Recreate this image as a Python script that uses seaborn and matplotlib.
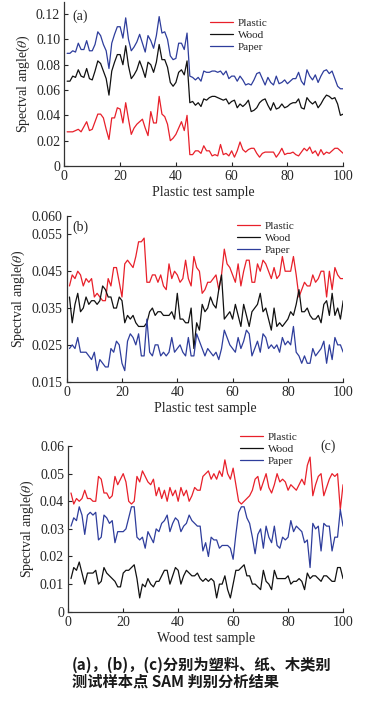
import numpy as np
import pandas as pd
import matplotlib
matplotlib.use("Agg")
import matplotlib.pyplot as plt
import seaborn as sns

sample = list(range(1, 101))
series_names = ["Plastic", "Wood", "Paper"]
colors = {"Plastic": "#e8202a", "Wood": "#111111", "Paper": "#2e3d9c"}

# panel (a): plastic test samples
a_plastic = [0.027, 0.027, 0.027, 0.028, 0.029, 0.027, 0.031, 0.035, 0.028, 0.029,
             0.035, 0.041, 0.041, 0.038, 0.029, 0.021, 0.038, 0.038, 0.046, 0.045,
             0.034, 0.050, 0.037, 0.025, 0.030, 0.033, 0.035, 0.037, 0.030, 0.024,
             0.043, 0.034, 0.034, 0.055, 0.041, 0.039, 0.033, 0.020, 0.022, 0.025,
             0.030, 0.035, 0.028, 0.040, 0.009, 0.009, 0.012, 0.012, 0.010, 0.016,
             0.012, 0.012, 0.008, 0.009, 0.008, 0.017, 0.009, 0.010, 0.008, 0.012,
             0.007, 0.012, 0.019, 0.013, 0.011, 0.013, 0.014, 0.014, 0.010, 0.007,
             0.010, 0.011, 0.011, 0.011, 0.011, 0.007, 0.010, 0.014, 0.009, 0.010,
             0.010, 0.011, 0.009, 0.008, 0.011, 0.014, 0.012, 0.015, 0.010, 0.012,
             0.008, 0.013, 0.009, 0.011, 0.010, 0.012, 0.014, 0.014, 0.012, 0.010]
a_wood = [0.067, 0.067, 0.071, 0.070, 0.076, 0.071, 0.070, 0.077, 0.069, 0.068,
          0.075, 0.083, 0.081, 0.075, 0.069, 0.056, 0.075, 0.082, 0.088, 0.088,
          0.080, 0.095, 0.079, 0.069, 0.072, 0.076, 0.083, 0.077, 0.070, 0.082,
          0.080, 0.074, 0.082, 0.096, 0.084, 0.084, 0.078, 0.066, 0.063, 0.066,
          0.074, 0.076, 0.072, 0.083, 0.050, 0.051, 0.048, 0.050, 0.047, 0.053,
          0.052, 0.054, 0.055, 0.055, 0.054, 0.053, 0.052, 0.053, 0.049, 0.051,
          0.052, 0.046, 0.049, 0.047, 0.049, 0.052, 0.043, 0.044, 0.046, 0.050,
          0.052, 0.053, 0.048, 0.044, 0.050, 0.045, 0.046, 0.049, 0.046, 0.047,
          0.049, 0.050, 0.050, 0.053, 0.046, 0.045, 0.054, 0.051, 0.049, 0.051,
          0.046, 0.049, 0.053, 0.056, 0.055, 0.053, 0.054, 0.049, 0.040, 0.041]
a_paper = [0.089, 0.089, 0.091, 0.090, 0.097, 0.092, 0.092, 0.099, 0.091, 0.091,
           0.096, 0.106, 0.103, 0.096, 0.091, 0.077, 0.097, 0.104, 0.110, 0.110,
           0.101, 0.117, 0.100, 0.091, 0.094, 0.098, 0.104, 0.097, 0.090, 0.103,
           0.099, 0.093, 0.103, 0.118, 0.105, 0.106, 0.100, 0.087, 0.084, 0.085,
           0.097, 0.097, 0.092, 0.105, 0.071, 0.070, 0.068, 0.070, 0.067, 0.075,
           0.074, 0.074, 0.075, 0.075, 0.074, 0.075, 0.072, 0.075, 0.069, 0.071,
           0.071, 0.067, 0.071, 0.068, 0.064, 0.065, 0.064, 0.068, 0.073, 0.074,
           0.069, 0.064, 0.070, 0.066, 0.064, 0.071, 0.065, 0.066, 0.068, 0.065,
           0.067, 0.069, 0.069, 0.074, 0.067, 0.064, 0.076, 0.071, 0.068, 0.072,
           0.066, 0.071, 0.075, 0.076, 0.073, 0.075, 0.069, 0.063, 0.061, 0.061]

# panel (b): plastic test samples
b_plastic = [0.041, 0.044, 0.043, 0.045, 0.044, 0.041, 0.043, 0.042, 0.043, 0.038,
             0.039, 0.038, 0.037, 0.037, 0.043, 0.041, 0.046, 0.046, 0.042, 0.038,
             0.047, 0.048, 0.047, 0.046, 0.049, 0.053, 0.053, 0.054, 0.042, 0.042,
             0.044, 0.044, 0.042, 0.044, 0.041, 0.040, 0.047, 0.043, 0.045, 0.044,
             0.042, 0.043, 0.048, 0.043, 0.041, 0.049, 0.046, 0.045, 0.039, 0.040,
             0.042, 0.042, 0.043, 0.044, 0.040, 0.044, 0.051, 0.047, 0.046, 0.044,
             0.042, 0.047, 0.041, 0.045, 0.048, 0.048, 0.042, 0.042, 0.047, 0.045,
             0.048, 0.047, 0.045, 0.043, 0.046, 0.043, 0.044, 0.049, 0.045, 0.045,
             0.045, 0.049, 0.044, 0.038, 0.040, 0.042, 0.041, 0.041, 0.044, 0.042,
             0.043, 0.045, 0.045, 0.038, 0.045, 0.040, 0.046, 0.044, 0.043, 0.043]
b_wood = [0.038, 0.031, 0.036, 0.039, 0.034, 0.035, 0.038, 0.036, 0.037, 0.037,
          0.036, 0.037, 0.041, 0.040, 0.038, 0.038, 0.035, 0.035, 0.038, 0.037,
          0.031, 0.033, 0.032, 0.033, 0.031, 0.030, 0.030, 0.030, 0.031, 0.034,
          0.035, 0.033, 0.034, 0.034, 0.033, 0.033, 0.033, 0.034, 0.032, 0.039,
          0.032, 0.032, 0.031, 0.031, 0.035, 0.024, 0.031, 0.029, 0.036, 0.034,
          0.035, 0.038, 0.036, 0.035, 0.040, 0.044, 0.032, 0.033, 0.034, 0.032,
          0.036, 0.033, 0.030, 0.036, 0.033, 0.030, 0.034, 0.035, 0.036, 0.039,
          0.034, 0.035, 0.032, 0.029, 0.035, 0.030, 0.031, 0.030, 0.031, 0.032,
          0.034, 0.033, 0.036, 0.040, 0.034, 0.034, 0.035, 0.033, 0.032, 0.032,
          0.033, 0.031, 0.036, 0.037, 0.033, 0.039, 0.033, 0.035, 0.032, 0.037]
b_paper = [0.024, 0.025, 0.024, 0.027, 0.023, 0.023, 0.023, 0.022, 0.021, 0.023,
           0.018, 0.021, 0.020, 0.019, 0.019, 0.024, 0.023, 0.026, 0.025, 0.020,
           0.018, 0.026, 0.028, 0.027, 0.025, 0.028, 0.022, 0.022, 0.032, 0.023,
           0.022, 0.025, 0.025, 0.022, 0.023, 0.022, 0.023, 0.027, 0.023, 0.024,
           0.025, 0.023, 0.022, 0.027, 0.022, 0.022, 0.028, 0.026, 0.024, 0.022,
           0.024, 0.023, 0.022, 0.023, 0.021, 0.024, 0.029, 0.027, 0.025, 0.024,
           0.023, 0.027, 0.024, 0.026, 0.029, 0.028, 0.022, 0.024, 0.026, 0.023,
           0.028, 0.027, 0.024, 0.025, 0.024, 0.025, 0.023, 0.027, 0.025, 0.026,
           0.025, 0.030, 0.023, 0.022, 0.020, 0.022, 0.020, 0.020, 0.024, 0.022,
           0.023, 0.024, 0.026, 0.020, 0.025, 0.021, 0.027, 0.025, 0.025, 0.023]

# panel (c): wood test samples
c_plastic = [0.043, 0.039, 0.041, 0.040, 0.041, 0.044, 0.041, 0.041, 0.040, 0.040,
             0.049, 0.048, 0.043, 0.043, 0.041, 0.042, 0.049, 0.046, 0.048, 0.050,
             0.047, 0.040, 0.039, 0.040, 0.049, 0.047, 0.051, 0.049, 0.047, 0.046,
             0.048, 0.042, 0.045, 0.041, 0.044, 0.040, 0.045, 0.042, 0.044, 0.040,
             0.045, 0.042, 0.044, 0.040, 0.042, 0.045, 0.044, 0.044, 0.049, 0.050,
             0.051, 0.048, 0.050, 0.048, 0.051, 0.049, 0.055, 0.050, 0.048, 0.052,
             0.046, 0.040, 0.039, 0.040, 0.041, 0.042, 0.044, 0.048, 0.049, 0.044,
             0.047, 0.050, 0.045, 0.043, 0.046, 0.050, 0.047, 0.048, 0.047, 0.044,
             0.046, 0.045, 0.044, 0.046, 0.048, 0.046, 0.053, 0.056, 0.042, 0.046,
             0.049, 0.050, 0.042, 0.045, 0.048, 0.050, 0.049, 0.050, 0.037, 0.046]
c_wood = [0.012, 0.016, 0.015, 0.018, 0.014, 0.010, 0.014, 0.014, 0.014, 0.015,
          0.010, 0.011, 0.016, 0.014, 0.013, 0.012, 0.011, 0.009, 0.009, 0.014,
          0.015, 0.015, 0.016, 0.017, 0.012, 0.005, 0.010, 0.009, 0.012, 0.010,
          0.009, 0.011, 0.011, 0.013, 0.015, 0.015, 0.010, 0.013, 0.016, 0.015,
          0.010, 0.013, 0.015, 0.014, 0.013, 0.013, 0.014, 0.012, 0.011, 0.012,
          0.011, 0.012, 0.011, 0.005, 0.010, 0.010, 0.013, 0.008, 0.005, 0.010,
          0.015, 0.015, 0.016, 0.017, 0.013, 0.013, 0.010, 0.010, 0.009, 0.008,
          0.015, 0.011, 0.010, 0.008, 0.015, 0.012, 0.012, 0.012, 0.012, 0.013,
          0.010, 0.011, 0.011, 0.012, 0.011, 0.008, 0.014, 0.012, 0.013, 0.013,
          0.012, 0.011, 0.013, 0.013, 0.012, 0.011, 0.011, 0.016, 0.016, 0.012]
c_paper = [0.031, 0.034, 0.033, 0.038, 0.035, 0.028, 0.035, 0.036, 0.035, 0.036,
           0.026, 0.027, 0.035, 0.034, 0.032, 0.033, 0.025, 0.029, 0.029, 0.029,
           0.030, 0.034, 0.038, 0.038, 0.027, 0.026, 0.027, 0.023, 0.029, 0.027,
           0.025, 0.030, 0.029, 0.032, 0.033, 0.035, 0.029, 0.032, 0.034, 0.033,
           0.029, 0.031, 0.032, 0.035, 0.033, 0.032, 0.031, 0.031, 0.022, 0.025,
           0.020, 0.027, 0.026, 0.026, 0.023, 0.024, 0.024, 0.024, 0.023, 0.019,
           0.028, 0.036, 0.038, 0.038, 0.034, 0.032, 0.027, 0.021, 0.028, 0.030,
           0.023, 0.031, 0.027, 0.025, 0.031, 0.024, 0.023, 0.027, 0.026, 0.027,
           0.033, 0.029, 0.031, 0.030, 0.029, 0.025, 0.026, 0.016, 0.032, 0.030,
           0.031, 0.022, 0.032, 0.031, 0.031, 0.022, 0.027, 0.027, 0.037, 0.031]

a_yticks = [0, 0.02, 0.04, 0.06, 0.08, 0.10, 0.12]
a_yticklabels = ["0", "0.02", "0.04", "0.06", "0.08", "0.10", "0.12"]
b_yticks = [0.015, 0.025, 0.035, 0.045, 0.055, 0.060]
b_yticklabels = ["0.015", "0.025", "0.035", "0.045", "0.055", "0.060"]
c_yticks = [0, 0.01, 0.02, 0.03, 0.04, 0.05, 0.06]
c_yticklabels = ["0", "0.01", "0.02", "0.03", "0.04", "0.05", "0.06"]
xticks = [0, 20, 40, 60, 80, 100]

sns.set_theme(style="ticks")
plt.rcParams["font.family"] = ["Liberation Serif", "DejaVu Serif"]
plt.rcParams["mathtext.fontset"] = "stix"
plt.rcParams["xtick.direction"] = "in"
plt.rcParams["ytick.direction"] = "in"


def long_frame(plastic, wood, paper):
    frames = []
    for name, vals in zip(series_names, [plastic, wood, paper]):
        frames.append(pd.DataFrame({"sample": sample, "angle": vals, "class": name}))
    return pd.concat(frames, ignore_index=True)


def draw_panel(ax, df, ylim, yticks, yticklabels, xlabel, label, label_pos, legend_anchor):
    sns.lineplot(data=df, x="sample", y="angle", hue="class", palette=colors,
                 hue_order=series_names, linewidth=0.9, ax=ax, legend=True)
    ax.set_xlim(0, 100)
    ax.set_ylim(*ylim)
    ax.set_xticks(xticks)
    ax.set_yticks(yticks)
    ax.set_yticklabels(yticklabels)
    ax.tick_params(labelsize=10, length=3, width=0.8, pad=3)
    ax.set_xlabel(xlabel, fontsize=10, labelpad=2)
    ax.set_ylabel(r"Spectval angle($\theta$)", fontsize=10, labelpad=3)
    for side in ["top", "right"]:
        ax.spines[side].set_visible(False)
    for side in ["left", "bottom"]:
        ax.spines[side].set_linewidth(0.9)
        ax.spines[side].set_color("#333333")
    ax.text(label_pos[0], label_pos[1], label, transform=ax.transAxes,
            ha="center", va="center", fontsize=10)
    ax.legend(loc="upper left", bbox_to_anchor=legend_anchor, frameon=False,
              fontsize=8, handlelength=2.1, handletextpad=0.4, labelspacing=0.2,
              borderpad=0, borderaxespad=0, title=None)


fig = plt.figure(figsize=(3.9, 7.02), dpi=100)
ax_a = fig.add_axes([0.165, 0.7635, 0.715, 0.2336])
ax_b = fig.add_axes([0.171, 0.4563, 0.709, 0.236])
ax_c = fig.add_axes([0.175, 0.1286, 0.7046, 0.236])

draw_panel(ax_a, long_frame(a_plastic, a_wood, a_paper), (0, 0.1295),
           a_yticks, a_yticklabels, "Plastic test sample", "(a)", (0.056, 0.915), (0.522, 0.90))
draw_panel(ax_b, long_frame(b_plastic, b_wood, b_paper), (0.015, 0.060),
           b_yticks, b_yticklabels, "Plastic test sample", "(b)", (0.048, 0.934), (0.616, 0.97))
draw_panel(ax_c, long_frame(c_plastic, c_wood, c_paper), (0, 0.06),
           c_yticks, c_yticklabels, "Wood test sample", "(c)", (0.944, 1.0), (0.624, 1.085))

cap_font = ["Noto Sans CJK SC", "DejaVu Sans"]
fig.text(0.185, 0.0527, "(a)，(b)，(c)分别为塑料、纸、木类别", family=cap_font,
         fontsize=11, fontweight="bold", ha="left", va="center", color="#1a1a1a")
fig.text(0.185, 0.029, "测试样本点 SAM 判别分析结果", family=cap_font,
         fontsize=11, fontweight="bold", ha="left", va="center", color="#1a1a1a")

fig.savefig("out.png", dpi=100, facecolor="white")
